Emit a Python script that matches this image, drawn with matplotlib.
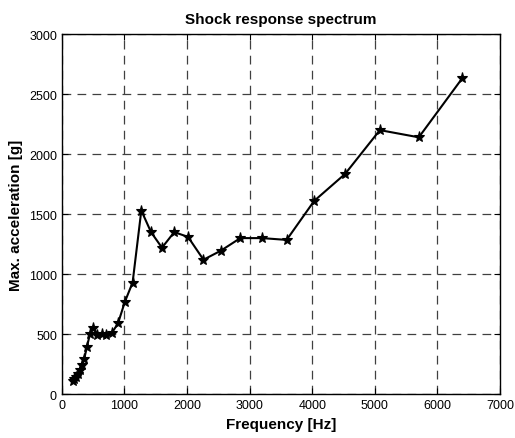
import matplotlib
matplotlib.use("Agg")
from matplotlib import pyplot as plt

plt.rcParams['font.family'] = ['Liberation Sans', 'DejaVu Sans']

freq = [178, 200, 224, 252, 283, 317, 356, 400, 449, 504, 566, 635, 713, 800, 898,
        1008, 1131, 1270, 1425, 1600, 1796, 2016, 2263, 2540, 2851, 3200, 3591,
        4031, 4525, 5080, 5702, 6400]
accel = [110, 125, 145, 165, 205, 240, 290, 390, 500, 555, 490, 500, 490, 510, 590,
         770, 930, 1530, 1350, 1220, 1350, 1310, 1120, 1195, 1300, 1300, 1285,
         1610, 1835, 2200, 2140, 2635]

fig = plt.figure(figsize=(5.15, 4.39), dpi=100)
ax = fig.add_axes([0.120, 0.100, 0.851, 0.820])

ax.plot(freq, accel, color='black', linewidth=1.5, marker='*', markersize=8,
        markerfacecolor='black', markeredgecolor='black', markeredgewidth=0.8)

ax.set_xlim(0, 7000)
ax.set_ylim(0, 3000)
ax.set_xticks(range(0, 7001, 1000))
ax.set_yticks(range(0, 3001, 500))
ax.grid(True, color='#404040', linestyle=(0, (7, 5)), linewidth=0.9)
ax.tick_params(direction='in', top=True, right=True, labelsize=9, length=4)
for s in ax.spines.values():
    s.set_linewidth(1.0)

ax.set_title("Shock response spectrum", fontsize=11, fontweight='bold', pad=8)
ax.set_xlabel("Frequency [Hz]", fontsize=11, fontweight='bold', labelpad=4)
ax.set_ylabel("Max. acceleration [g]", fontsize=11, fontweight='bold', labelpad=4)

fig.savefig("out.png", dpi=100)
